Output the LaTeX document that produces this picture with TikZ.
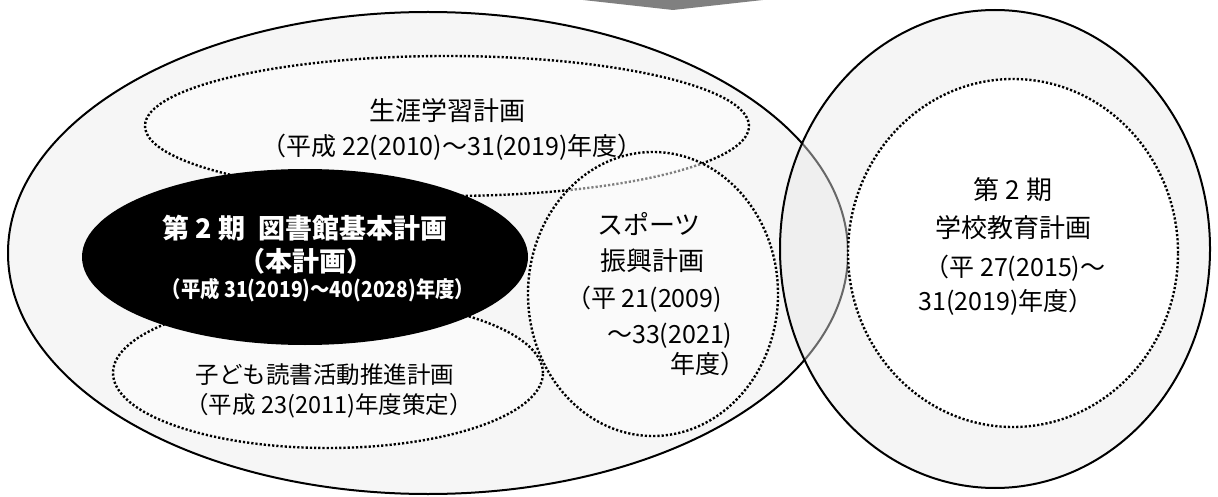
\documentclass[tikz,border=0pt]{standalone}
\usepackage{fontspec}
\usepackage{graphicx}
\newfontfamily\jp{Noto Sans CJK JP}
\definecolor{bgfill}{HTML}{F6F6F6}
\definecolor{infill}{HTML}{FAFAFA}
\definecolor{arrowgray}{HTML}{808080}
\definecolor{rfill}{HTML}{E8E8E8}
\tikzset{
  solidline/.style={draw=black, line width=2pt},
  dotline/.style={draw=black, line width=2.4pt, dash pattern=on 2.2pt off 2pt},
  txt/.style={font=\jp\fontsize{26}{30}\selectfont, inner sep=0pt, text=black, anchor=base},
  midtxt/.style={font=\jp\fontsize{25}{30}\selectfont, inner sep=0pt, text=black, anchor=base},
  smalltxt/.style={font=\jp\fontsize{23.5}{28}\selectfont, inner sep=0pt, text=black, anchor=base},
  boldtxt/.style={font=\jp\bfseries\fontsize{27}{30}\selectfont, inner sep=0pt, text=white, anchor=base},
  boldsmall/.style={font=\jp\bfseries\fontsize{22}{24}\selectfont, inner sep=0pt, text=white, anchor=base},
}
\begin{document}
\begin{tikzpicture}[x=1pt,y=-1pt]
\useasboundingbox (0,0) rectangle (1218,497);
% top arrow tip
\fill[arrowgray] (583,0) -- (763,0) -- (673,10) -- cycle;
% large left ellipse
\path[solidline, fill=bgfill] (428,253) ellipse [x radius=420pt, y radius=241pt];
% lifelong learning plan
\path[dotline, fill=infill] (447,126) ellipse [x radius=302pt, y radius=70pt];
% children's reading plan
\path[dotline, fill=infill] (328,373) ellipse [x radius=215pt, y radius=75pt];
% library plan (black)
\fill[black] (305,257) ellipse [x radius=223pt, y radius=88pt];
% sports plan
\path[dotline, fill=white, fill opacity=0.5] (653,294) ellipse [x radius=125pt, y radius=142pt];
% right outer ellipse
\path[solidline, fill=rfill, fill opacity=0.45] (995,249) ellipse [x radius=215pt, y radius=239pt];
% right inner circle
\path[dotline, fill=white] (1013,253) ellipse [x radius=165pt, y radius=174pt];

% texts
\node[txt] (sg1) at (447,121) {生涯学習計画};
\node[midtxt] (sg2) at (452,156) {（平成 22(2010)～31(2019)年度）};

\node[boldtxt] (bk1) at (305,238) {第 2 期\hspace{0.5em}図書館基本計画};
\node[boldtxt] (bk2) at (306,271) {（本計画）};
\node[boldsmall] (bk3) at (318,297) {\scalebox{0.88}[1]{（平成 31(2019)～40(2028)年度）}};

\node[smalltxt] (kd1) at (325,383) {子ども読書活動推進計画};
\node[smalltxt] (kd2) at (329,413) {（平成 23(2011)年度策定）};

\node[txt, anchor=base west] (sp1) at (597,235) {スポーツ};
\node[txt, anchor=base west] (sp2) at (600,270) {振興計画};
\node[midtxt, anchor=base west] (sp3) at (566,307) {（平 21(2009)};
\node[midtxt, anchor=base west] (sp4) at (607,343) {～33(2021)};
\node[midtxt, anchor=base west] (sp5) at (670,373) {年度）};

\node[txt] (gk1) at (1013,200) {第 2 期};
\node[txt] (gk2) at (1013,237) {学校教育計画};
\node[midtxt] (gk3) at (1015,276) {（平 27(2015)～};
\node[midtxt] (gk4) at (1006,310) {31(2019)年度）};
\end{tikzpicture}
\end{document}
